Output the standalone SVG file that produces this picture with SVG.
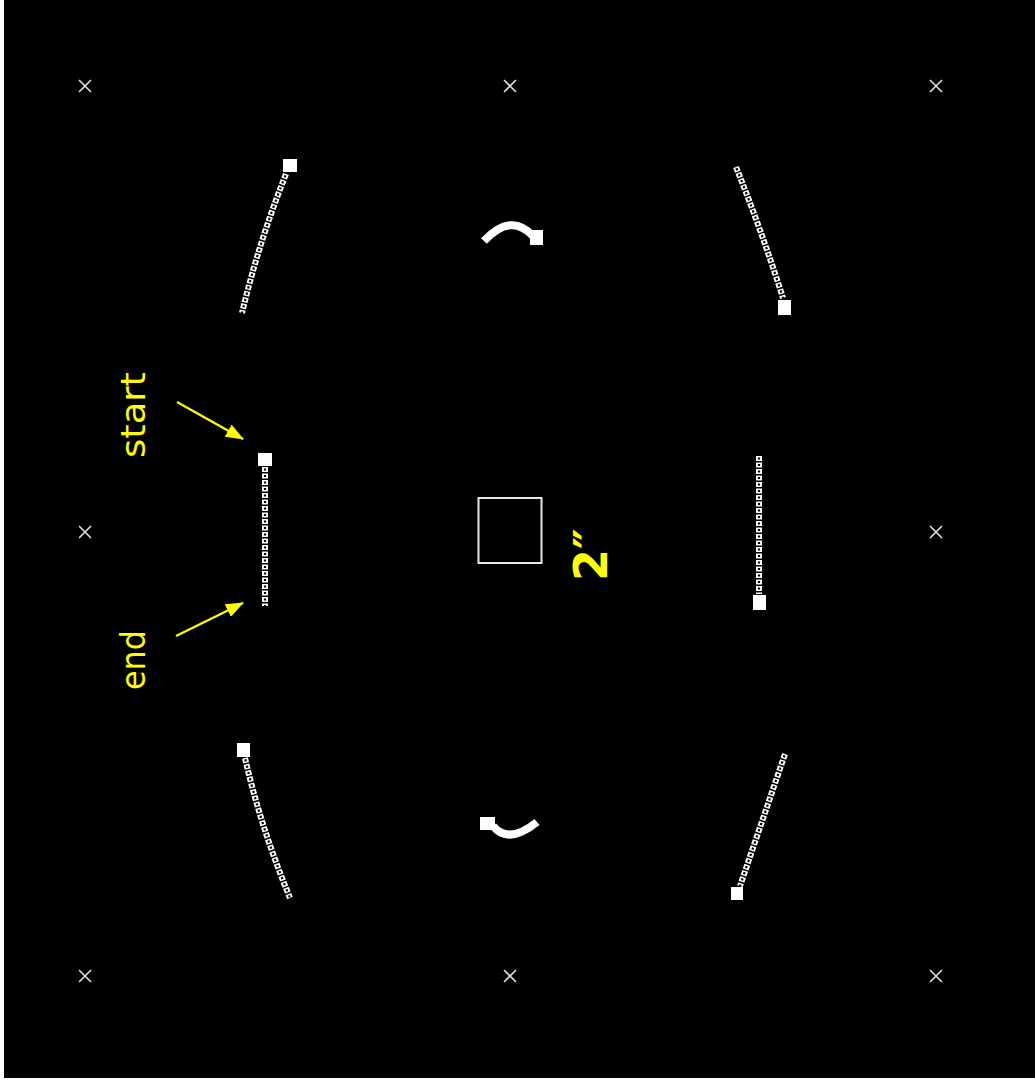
<svg xmlns="http://www.w3.org/2000/svg" width="1035" height="1088" viewBox="0 0 1035 1088">
<style>
.cross{stroke:#e0e0e0;stroke-width:1.6;fill:none}
.chain{fill:none;stroke:#fff;stroke-width:6;stroke-dasharray:5 1.5}
.hole{fill:none;stroke:#000;stroke-width:2.2;stroke-dasharray:2.2 4.3;stroke-dashoffset:-1.4}
.arc{fill:none;stroke:#fff;stroke-width:8}
.blk{fill:#fff}
.lbl{fill:#ffff00;font-family:"DejaVu Sans",sans-serif}
.arr{stroke:#ffff00;stroke-width:2.2;fill:none;marker-end:url(#ah)}
</style>
<defs>
<marker id="ah" viewBox="0 0 18 14" refX="17" refY="7" markerWidth="18" markerHeight="14" markerUnits="userSpaceOnUse" orient="auto">
<path d="M0,0 L18,7 L0,14 Z" fill="#ffff00"/>
</marker>
<g id="x"><path class="cross" d="M-6,-6 L6,6 M-6,6 L6,-6"/></g>
</defs>
<rect x="0" y="0" width="1035" height="1088" fill="#fff"/>
<rect x="4" y="0" width="1031" height="1078" fill="#000"/>
<g id="crosses">
<use href="#x" x="85" y="86"/>
<use href="#x" x="510" y="86"/>
<use href="#x" x="936" y="86"/>
<use href="#x" x="85" y="532"/>
<use href="#x" x="936" y="532"/>
<use href="#x" x="85" y="976"/>
<use href="#x" x="510" y="976"/>
<use href="#x" x="936" y="976"/>
</g>
<g id="top-left">
<path class="chain" d="M286,174 Q259,241.5 242,313"/>
<path class="hole" d="M286,174 Q259,241.5 242,313"/>
<rect class="blk" x="283" y="159" width="14" height="13"/>
</g>
<g id="top-middle">
<path class="arc" d="M484,241 Q511,212 533,236"/>
<rect class="blk" x="530" y="230" width="13" height="15"/>
</g>
<g id="top-right">
<path class="chain" d="M736,167 Q761,229 783,298"/>
<path class="hole" d="M736,167 Q761,229 783,298"/>
<rect class="blk" x="778" y="300" width="13" height="15"/>
</g>
<g id="middle-left">
<path class="chain" d="M265,467 L265,606"/>
<path class="hole" d="M265,467 L265,606"/>
<rect class="blk" x="258" y="453" width="14" height="13"/>
</g>
<g id="center-square">
<rect x="478.5" y="498" width="63" height="65" fill="none" stroke="#e8e8e8" stroke-width="2"/>
</g>
<g id="middle-right">
<path class="chain" d="M759,456 L759,594"/>
<path class="hole" d="M759,456 L759,594"/>
<rect class="blk" x="753" y="595" width="13" height="15"/>
</g>
<g id="bottom-left">
<path class="chain" d="M245,758 Q260.5,826.5 290,898"/>
<path class="hole" d="M245,758 Q260.5,826.5 290,898"/>
<rect class="blk" x="237" y="743" width="13" height="14"/>
</g>
<g id="bottom-middle">
<path class="arc" d="M493,826 Q508.5,845 537,822"/>
<rect class="blk" x="480" y="817" width="15" height="13"/>
</g>
<g id="bottom-right">
<path class="chain" d="M785,754 L740,886"/>
<path class="hole" d="M785,754 L740,886"/>
<rect class="blk" x="731" y="887" width="12" height="13"/>
</g>
<g id="labels">
<text class="lbl" font-size="34" textLength="86" lengthAdjust="spacingAndGlyphs" transform="translate(145,458) rotate(-90)">start</text>
<text class="lbl" font-size="34" textLength="60" lengthAdjust="spacingAndGlyphs" transform="translate(145,690) rotate(-90)">end</text>
<text class="lbl" font-size="46" font-weight="bold" transform="translate(607,581) rotate(-90)">2″</text>
</g>
<g id="connectors">
<line class="arr" x1="177" y1="402" x2="243" y2="439"/>
<line class="arr" x1="176" y1="636" x2="243" y2="603"/>
</g>
</svg>
